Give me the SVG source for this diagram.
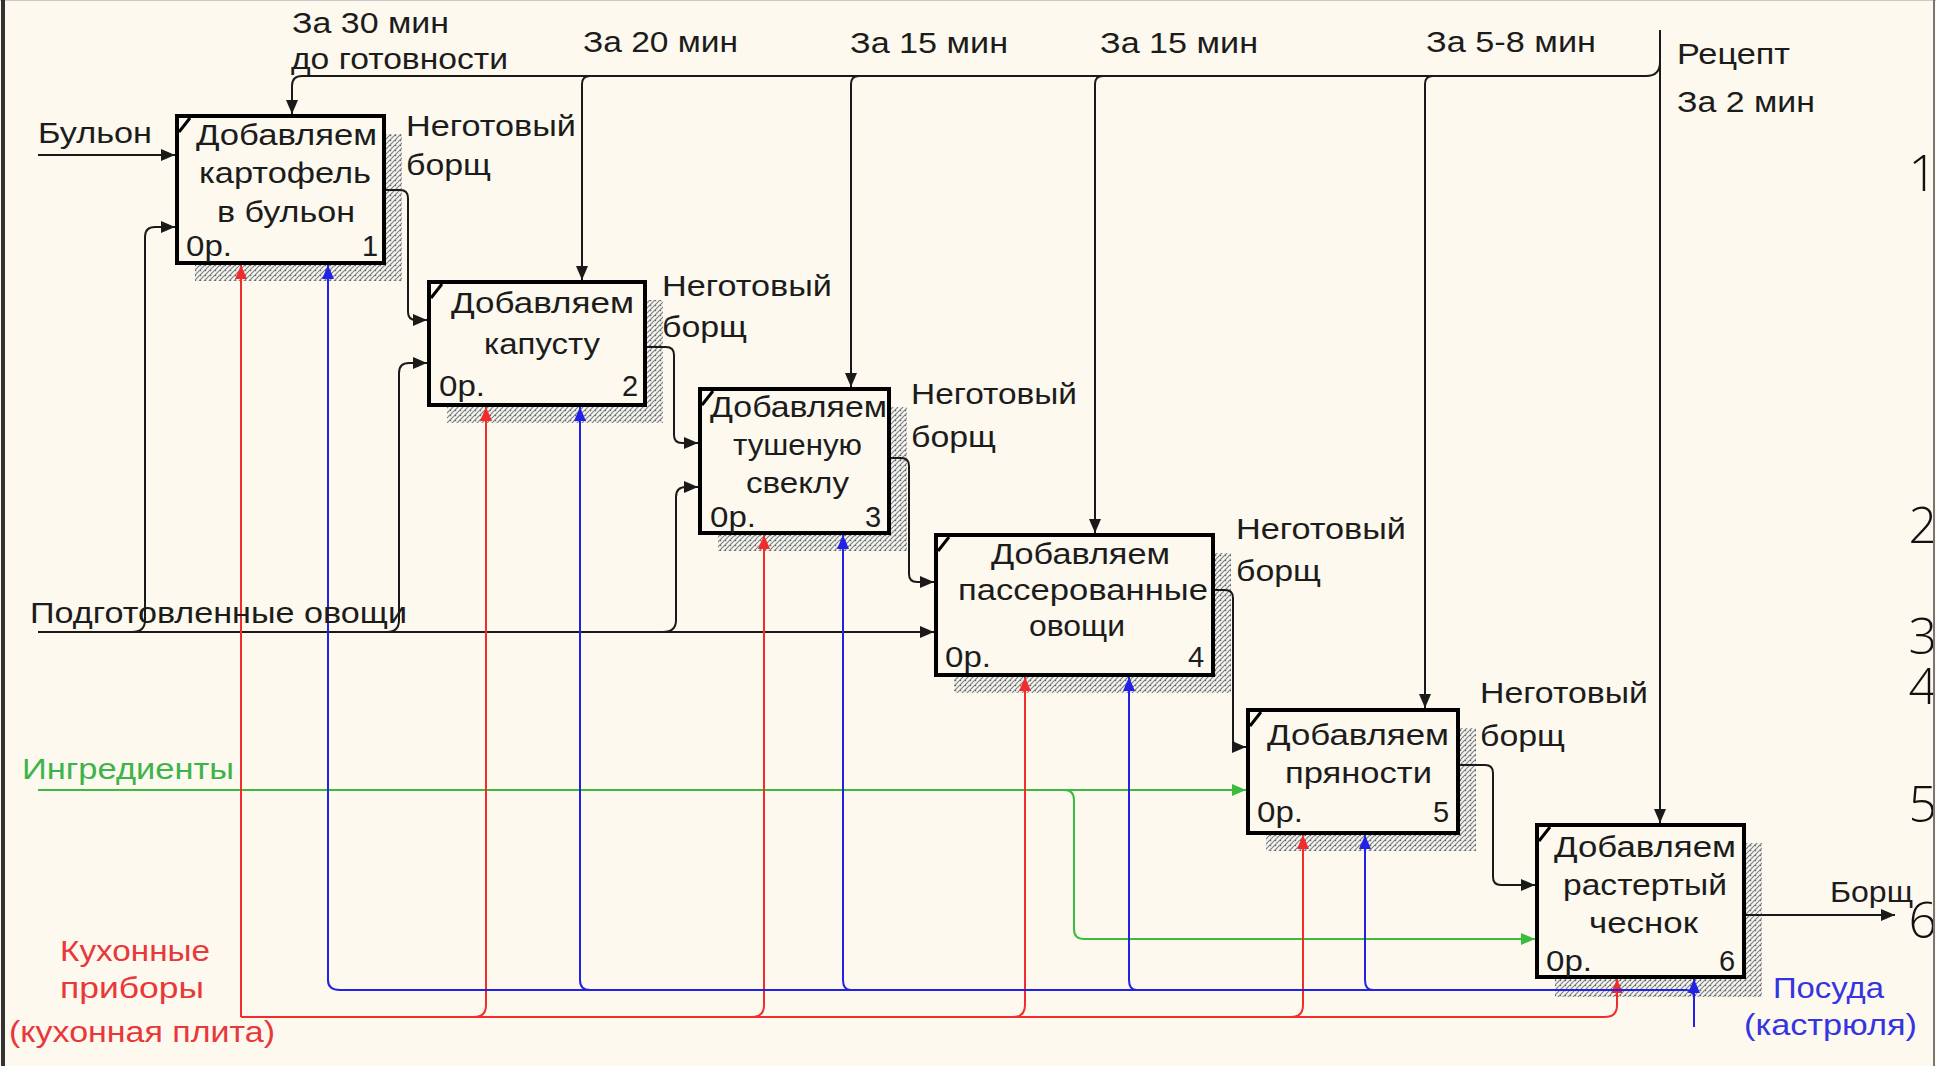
<svg xmlns="http://www.w3.org/2000/svg" width="1936" height="1066" viewBox="0 0 1936 1066">
<style>
.t{font-family:"Liberation Sans",Arial,sans-serif;font-size:29px;fill:#1c1c1c}
.tr{fill:#e8383a}.tb{fill:#3434e0}.tg{fill:#3cb44a}
.box{fill:#FDF9EE;stroke:#000;stroke-width:4}
.sh{fill:url(#hatch)}
.tick{stroke:#000;stroke-width:3;fill:none}
.k{fill:none;stroke:#1a1a1a;stroke-width:2}
.r{fill:none;stroke:#f22c2c;stroke-width:2}
.b{fill:none;stroke:#2222e6;stroke-width:2}
.g{fill:none;stroke:#3cbc3c;stroke-width:2}
.num{font-family:"Open Sans","DejaVu Sans",sans-serif;font-weight:300;font-size:50px;fill:#111}
</style>
<defs>
<pattern id="hatch" width="5" height="5" patternUnits="userSpaceOnUse">
<rect width="5" height="5" fill="#f6f6f2"/>
<path d="M0,5 L5,0 M-1,1 L1,-1 M4,6 L6,4" stroke="#808080" stroke-width="1.2"/>
<rect x="0" y="0" width="1.2" height="1.2" fill="#666"/>
</pattern>
<marker id="ak" markerUnits="userSpaceOnUse" markerWidth="14" markerHeight="12" refX="14" refY="6" orient="auto"><path d="M0,0 L14,6 L0,12 z" fill="#1a1a1a"/></marker>
<marker id="ar" markerUnits="userSpaceOnUse" markerWidth="14" markerHeight="12" refX="14" refY="6" orient="auto"><path d="M0,0 L14,6 L0,12 z" fill="#f22c2c"/></marker>
<marker id="ab" markerUnits="userSpaceOnUse" markerWidth="14" markerHeight="12" refX="14" refY="6" orient="auto"><path d="M0,0 L14,6 L0,12 z" fill="#2222e6"/></marker>
<marker id="ag" markerUnits="userSpaceOnUse" markerWidth="14" markerHeight="12" refX="14" refY="6" orient="auto"><path d="M0,0 L14,6 L0,12 z" fill="#3cbc3c"/></marker>
<clipPath id="clipR"><rect x="0" y="0" width="1933" height="1066"/></clipPath>
</defs>
<rect width="1936" height="1066" fill="#FDF9EE"/>
<line x1="0" y1="0.5" x2="1936" y2="0.5" stroke="#c8c8c8" stroke-width="1"/>
<line x1="3" y1="0" x2="3" y2="1066" stroke="#333" stroke-width="4"/>
<line x1="1934" y1="0" x2="1934" y2="1066" stroke="#777" stroke-width="2"/>
<g clip-path="url(#clipR)">
<text class="num" x="1937" y="191" text-anchor="end">1</text>
<text class="num" x="1937" y="543" text-anchor="end">2</text>
<text class="num" x="1937" y="654" text-anchor="end">3</text>
<text class="num" x="1937" y="704" text-anchor="end">4</text>
<text class="num" x="1937" y="822" text-anchor="end">5</text>
<text class="num" x="1937" y="938" text-anchor="end">6</text>
</g>
<g id="shadows">
<rect class="sh" x="195" y="134" width="207" height="147"/>
<rect class="sh" x="447" y="300" width="216" height="123"/>
<rect class="sh" x="718" y="407" width="189" height="144"/>
<rect class="sh" x="954" y="553" width="277" height="140"/>
<rect class="sh" x="1266" y="728" width="210" height="123"/>
<rect class="sh" x="1555" y="843" width="207" height="154"/>
</g>
<g id="connectors">
<path class="k" d="M1660,30 L1660,823" marker-end="url(#ak)"/>
<path class="k" d="M1660,62 Q1660,76 1646,76 L302,76 Q292,76 292,86 L292,114" marker-end="url(#ak)"/>
<path class="k" d="M590,76 Q582,76 582,84 L582,280" marker-end="url(#ak)"/>
<path class="k" d="M859,76 Q851,76 851,84 L851,387" marker-end="url(#ak)"/>
<path class="k" d="M1103,76 Q1095,76 1095,84 L1095,533" marker-end="url(#ak)"/>
<path class="k" d="M1433,76 Q1425,76 1425,84 L1425,708" marker-end="url(#ak)"/>
<path class="k" d="M38,155 L175,155" marker-end="url(#ak)"/>
<path class="k" d="M38,632 L934,632" marker-end="url(#ak)"/>
<path class="k" d="M132,632 Q145,632 145,620 L145,237 Q145,227 155,227 L175,227" marker-end="url(#ak)"/>
<path class="k" d="M387,632 Q399,632 399,620 L399,373 Q399,363 409,363 L427,363" marker-end="url(#ak)"/>
<path class="k" d="M663,632 Q676,632 676,620 L676,497 Q676,487 686,487 L698,487" marker-end="url(#ak)"/>
<path class="k" d="M384,190 L400,190 Q408,190 408,198 L408,312 Q408,320 416,320 L427,320" marker-end="url(#ak)"/>
<path class="k" d="M645,347 L666,347 Q674,347 674,355 L674,435 Q674,443 682,443 L698,443" marker-end="url(#ak)"/>
<path class="k" d="M889,458 L901,458 Q909,458 909,466 L909,574 Q909,582 917,582 L934,582" marker-end="url(#ak)"/>
<path class="k" d="M1213,590 L1225,590 Q1233,590 1233,598 L1233,740 Q1233,747 1240,747 L1246,747" marker-end="url(#ak)"/>
<path class="k" d="M1458,765 L1485,765 Q1493,765 1493,773 L1493,877 Q1493,885 1501,885 L1535,885" marker-end="url(#ak)"/>
<path class="k" d="M1744,915 L1895,915" marker-end="url(#ak)"/>
<path class="g" d="M38,790 L1246,790" marker-end="url(#ag)"/>
<path class="g" d="M1064,790 Q1074,790 1074,800 L1074,929 Q1074,939 1084,939 L1535,939" marker-end="url(#ag)"/>
<path class="r" d="M241,1017 L241,265" marker-end="url(#ar)"/>
<path class="r" d="M241,1017 L1605,1017 Q1617,1017 1617,1005 L1617,979" marker-end="url(#ar)"/>
<path class="r" d="M474,1017 Q486,1017 486,1005 L486,407" marker-end="url(#ar)"/>
<path class="r" d="M752,1017 Q764,1017 764,1005 L764,535" marker-end="url(#ar)"/>
<path class="r" d="M1013,1017 Q1025,1017 1025,1005 L1025,677" marker-end="url(#ar)"/>
<path class="r" d="M1291,1017 Q1303,1017 1303,1005 L1303,835" marker-end="url(#ar)"/>
<path class="b" d="M1694,1027 L1694,979" marker-end="url(#ab)"/>
<path class="b" d="M1694,998 Q1694,990 1686,990 L340,990 Q328,990 328,980 L328,265" marker-end="url(#ab)"/>
<path class="b" d="M590,990 Q580,990 580,980 L580,407" marker-end="url(#ab)"/>
<path class="b" d="M851,990 Q843,990 843,980 L843,535" marker-end="url(#ab)"/>
<path class="b" d="M1137,990 Q1129,990 1129,980 L1129,677" marker-end="url(#ab)"/>
<path class="b" d="M1373,990 Q1365,990 1365,980 L1365,835" marker-end="url(#ab)"/>
</g>
<g id="box1">
<rect class="box" x="177" y="116" width="207" height="147"/>
<path class="tick" d="M179,132 L190,118"/>
<text class="t" x="196" y="145" textLength="181" lengthAdjust="spacingAndGlyphs">Добавляем</text>
<text class="t" x="199" y="183" textLength="172" lengthAdjust="spacingAndGlyphs">картофель</text>
<text class="t" x="217" y="222" textLength="138" lengthAdjust="spacingAndGlyphs">в бульон</text>
<text class="t" x="186" y="256" textLength="46" lengthAdjust="spacingAndGlyphs">0р.</text>
<text class="t" x="362" y="256">1</text>
</g>
<g id="box2">
<rect class="box" x="429" y="282" width="216" height="123"/>
<path class="tick" d="M431,298 L442,284"/>
<text class="t" x="451" y="313" textLength="183" lengthAdjust="spacingAndGlyphs">Добавляем</text>
<text class="t" x="484" y="354" textLength="116" lengthAdjust="spacingAndGlyphs">капусту</text>
<text class="t" x="439" y="396" textLength="46" lengthAdjust="spacingAndGlyphs">0р.</text>
<text class="t" x="622" y="396">2</text>
</g>
<g id="box3">
<rect class="box" x="700" y="389" width="189" height="144"/>
<path class="tick" d="M702,405 L713,391"/>
<text class="t" x="710" y="417" textLength="177" lengthAdjust="spacingAndGlyphs">Добавляем</text>
<text class="t" x="733" y="455" textLength="129" lengthAdjust="spacingAndGlyphs">тушеную</text>
<text class="t" x="746" y="493" textLength="103" lengthAdjust="spacingAndGlyphs">свеклу</text>
<text class="t" x="710" y="527" textLength="46" lengthAdjust="spacingAndGlyphs">0р.</text>
<text class="t" x="865" y="527">3</text>
</g>
<g id="box4">
<rect class="box" x="936" y="535" width="277" height="140"/>
<path class="tick" d="M938,551 L949,537"/>
<text class="t" x="991" y="564" textLength="179" lengthAdjust="spacingAndGlyphs">Добавляем</text>
<text class="t" x="958" y="600" textLength="250" lengthAdjust="spacingAndGlyphs">пассерованные</text>
<text class="t" x="1029" y="636" textLength="96" lengthAdjust="spacingAndGlyphs">овощи</text>
<text class="t" x="945" y="667" textLength="46" lengthAdjust="spacingAndGlyphs">0р.</text>
<text class="t" x="1188" y="667">4</text>
</g>
<g id="box5">
<rect class="box" x="1248" y="710" width="210" height="123"/>
<path class="tick" d="M1250,726 L1261,712"/>
<text class="t" x="1267" y="745" textLength="182" lengthAdjust="spacingAndGlyphs">Добавляем</text>
<text class="t" x="1285" y="783" textLength="147" lengthAdjust="spacingAndGlyphs">пряности</text>
<text class="t" x="1257" y="822" textLength="46" lengthAdjust="spacingAndGlyphs">0р.</text>
<text class="t" x="1433" y="822">5</text>
</g>
<g id="box6">
<rect class="box" x="1537" y="825" width="207" height="152"/>
<path class="tick" d="M1539,841 L1550,827"/>
<text class="t" x="1554" y="857" textLength="182" lengthAdjust="spacingAndGlyphs">Добавляем</text>
<text class="t" x="1563" y="895" textLength="164" lengthAdjust="spacingAndGlyphs">растертый</text>
<text class="t" x="1589" y="933" textLength="109" lengthAdjust="spacingAndGlyphs">чеснок</text>
<text class="t" x="1546" y="971" textLength="46" lengthAdjust="spacingAndGlyphs">0р.</text>
<text class="t" x="1719" y="971">6</text>
</g>
<g id="labels">
<text class="t" x="292" y="33" textLength="157" lengthAdjust="spacingAndGlyphs">За 30 мин</text>
<text class="t" x="291" y="69" textLength="217" lengthAdjust="spacingAndGlyphs">до готовности</text>
<text class="t" x="583" y="52" textLength="155" lengthAdjust="spacingAndGlyphs">За 20 мин</text>
<text class="t" x="850" y="53" textLength="158" lengthAdjust="spacingAndGlyphs">За 15 мин</text>
<text class="t" x="1100" y="53" textLength="158" lengthAdjust="spacingAndGlyphs">За 15 мин</text>
<text class="t" x="1426" y="52" textLength="170" lengthAdjust="spacingAndGlyphs">За 5-8 мин</text>
<text class="t" x="1677" y="64" textLength="113" lengthAdjust="spacingAndGlyphs">Рецепт</text>
<text class="t" x="1677" y="112" textLength="138" lengthAdjust="spacingAndGlyphs">За 2 мин</text>
<text class="t" x="38" y="143" textLength="114" lengthAdjust="spacingAndGlyphs">Бульон</text>
<text class="t" x="30" y="623" textLength="377" lengthAdjust="spacingAndGlyphs">Подготовленные овощи</text>
<text class="t tg" x="22" y="779" textLength="212" lengthAdjust="spacingAndGlyphs">Ингредиенты</text>
<text class="t tr" x="60" y="961" textLength="150" lengthAdjust="spacingAndGlyphs">Кухонные</text>
<text class="t tr" x="60" y="998" textLength="144" lengthAdjust="spacingAndGlyphs">приборы</text>
<text class="t tr" x="9" y="1042" textLength="266" lengthAdjust="spacingAndGlyphs">(кухонная плита)</text>
<text class="t" x="406" y="136" textLength="170" lengthAdjust="spacingAndGlyphs">Неготовый</text>
<text class="t" x="406" y="175" textLength="85" lengthAdjust="spacingAndGlyphs">борщ</text>
<text class="t" x="662" y="296" textLength="170" lengthAdjust="spacingAndGlyphs">Неготовый</text>
<text class="t" x="662" y="337" textLength="85" lengthAdjust="spacingAndGlyphs">борщ</text>
<text class="t" x="911" y="404" textLength="166" lengthAdjust="spacingAndGlyphs">Неготовый</text>
<text class="t" x="911" y="447" textLength="85" lengthAdjust="spacingAndGlyphs">борщ</text>
<text class="t" x="1236" y="539" textLength="170" lengthAdjust="spacingAndGlyphs">Неготовый</text>
<text class="t" x="1236" y="581" textLength="85" lengthAdjust="spacingAndGlyphs">борщ</text>
<text class="t" x="1480" y="703" textLength="168" lengthAdjust="spacingAndGlyphs">Неготовый</text>
<text class="t" x="1480" y="746" textLength="85" lengthAdjust="spacingAndGlyphs">борщ</text>
<text class="t" x="1830" y="902" textLength="83" lengthAdjust="spacingAndGlyphs">Борщ</text>
<text class="t tb" x="1773" y="998" textLength="111" lengthAdjust="spacingAndGlyphs">Посуда</text>
<text class="t tb" x="1744" y="1035" textLength="173" lengthAdjust="spacingAndGlyphs">(кастрюля)</text>
</g>
</svg>
